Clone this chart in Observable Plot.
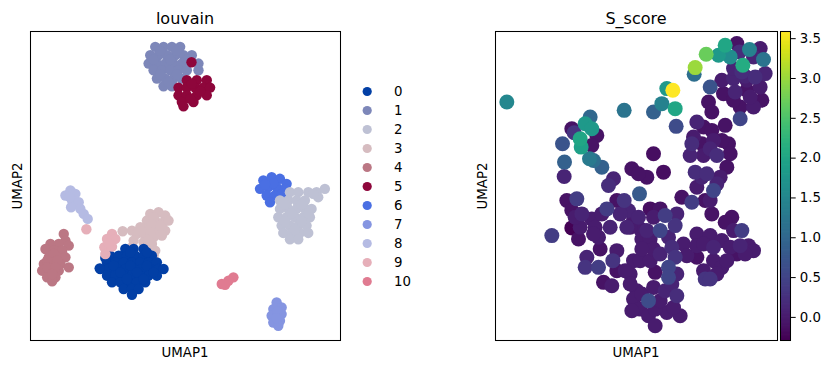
<!DOCTYPE html>
<html>
<head>
<meta charset="utf-8">
<script src="https://cdn.jsdelivr.net/npm/d3@7"></script>
<script src="https://cdn.jsdelivr.net/npm/@observablehq/plot@0.6"></script>
<style>
  html, body { margin: 0; padding: 0; background: #fff; }
  #chart { position: relative; width: 831px; height: 369px; font-family: "DejaVu Sans", sans-serif; }
  #chart > svg { position: absolute; top: 0; overflow: visible; }
</style>
</head>
<body>
<div id="chart"></div>
<script>
// ---------- louvain panel data (UMAP1, UMAP2) ----------
const categories = ["0","1","2","3","4","5","6","7","8","9","10"];
const palette = ["#023fa5","#7d87b9","#bec1d4","#d6bcc0","#bb7784","#8e063b","#4a6fe3","#8595e1","#b5bbe3","#e6afb9","#e07b91"];

const cluster0 = [[3.75,3.55],[4.00,3.55],[4.30,3.55],
  [3.30,3.35],[3.55,3.35],[3.80,3.35],[4.05,3.35],[4.30,3.35],[4.55,3.35],
  [3.20,3.15],[3.45,3.15],[3.70,3.15],[3.95,3.15],[4.20,3.15],[4.45,3.15],[4.70,3.15],
  [3.00,2.95],[3.25,2.95],[3.50,2.95],[3.75,2.95],[4.00,2.95],[4.25,2.95],[4.50,2.95],[4.75,2.95],[4.90,2.95],
  [3.20,2.75],[3.45,2.75],[3.70,2.75],[3.95,2.75],[4.20,2.75],[4.45,2.75],[4.70,2.75],
  [3.35,2.55],[3.60,2.55],[3.85,2.55],[4.10,2.55],[4.35,2.55],
  [3.70,2.35],[3.95,2.35],[4.15,2.35],[3.95,2.18],[3.15,3.28],[2.98,2.97],
  [3.40,3.05],[3.90,3.05],[4.40,3.05],[3.60,2.85],[4.10,2.85],[4.60,2.85],[3.80,2.65],[4.30,2.65],[3.90,3.45],[4.40,3.45]];
const cluster1 = [[4.65,9.60],[4.90,9.60],[5.15,9.60],[5.40,9.60],
  [4.50,9.35],[4.75,9.35],[5.00,9.35],[5.25,9.35],[5.50,9.35],[5.75,9.35],
  [4.45,9.10],[4.70,9.10],[4.95,9.10],[5.20,9.10],[5.45,9.10],[5.95,9.10],
  [4.60,8.90],[4.85,8.90],[5.10,8.90],[5.35,8.90],[5.60,8.90],[5.95,8.90],
  [4.70,8.65],[4.95,8.65],[5.20,8.65],[5.45,8.65],[4.90,8.42],[5.15,8.42],
  [4.80,9.48],[5.30,9.48],[4.60,9.22],[5.10,9.22],[5.60,9.22],[4.80,8.78],[5.30,8.78],[5.05,8.54]];
const cluster2 = [[8.70,5.25],[8.95,5.25],[9.25,5.25],[9.50,5.25],[9.75,5.35],[9.55,5.10],[9.40,5.20],
  [8.40,5.00],[8.65,5.00],[8.90,5.00],[9.15,5.00],
  [8.40,4.75],[8.65,4.75],[8.90,4.75],[9.15,4.75],[9.35,4.75],
  [8.35,4.50],[8.60,4.50],[8.85,4.50],[9.10,4.50],[9.30,4.50],
  [8.45,4.25],[8.70,4.25],[8.95,4.25],[9.20,4.25],
  [8.50,4.03],[8.75,4.03],[9.00,4.03],[9.25,4.03],[8.70,3.84],[8.95,3.84],
  [8.55,4.88],[9.05,4.88],[8.75,4.62],[9.25,4.62],[8.55,4.38],[9.05,4.38],[8.85,4.14]];
const cluster3 = [[4.50,4.60],[4.75,4.65],[4.95,4.55],[4.40,4.40],[4.65,4.40],[4.90,4.35],[5.05,4.40],
  [4.20,4.20],[4.45,4.15],[4.70,4.15],[4.95,4.10],[3.95,4.10],[3.67,4.08],[4.10,4.00],[4.35,3.95],
  [4.60,3.90],[4.85,3.95],[4.00,3.80],[4.30,3.75],[4.55,3.70],[3.95,3.60],[4.45,3.55],[4.65,3.50],[4.60,3.35],
  [4.60,4.50],[4.55,4.28],[4.80,4.25],[4.25,4.08],[4.50,4.05],[4.45,3.82]];
const cluster4 = [[1.90,4.00],[1.95,3.80],[2.05,3.65],[1.50,3.70],[1.75,3.70],[1.35,3.55],[1.60,3.50],
  [1.85,3.50],[1.45,3.30],[1.70,3.30],[1.95,3.30],[1.30,3.10],[1.55,3.10],[1.80,3.10],[2.05,3.00],
  [1.25,2.90],[1.50,2.90],[1.75,2.90],[1.40,2.70],[1.65,2.70],[1.55,2.58],
  [1.60,3.40],[1.40,3.20],[1.70,3.20],[1.40,3.00],[1.65,3.00],[1.55,2.80]];
const cluster5 = [[5.74,9.14],[5.60,8.60],[5.90,8.60],[6.20,8.60],
  [5.35,8.38],[5.60,8.38],[5.85,8.38],[6.10,8.38],[6.30,8.38],
  [5.35,8.15],[5.60,8.15],[5.90,8.15],[6.20,8.15],[5.45,7.95],[5.80,7.95],[5.50,7.82],
  [5.75,8.50],[6.00,8.27],[5.70,8.05]];
const cluster6 = [[7.90,5.60],[8.15,5.70],[8.40,5.65],[8.60,5.50],[7.80,5.35],[8.05,5.40],
  [8.30,5.40],[8.55,5.35],[8.00,5.15],[8.25,5.15],[8.10,4.95],[8.45,5.20],[8.20,5.52],[7.95,5.48]];
const cluster7 = [[8.30,1.95],[8.45,1.80],[8.20,1.75],[8.45,1.60],[8.15,1.55],[8.40,1.40],[8.20,1.35],[8.35,1.25],[8.32,1.68],[8.30,1.48]];
const cluster8 = [[2.10,5.30],[1.95,5.15],[2.25,5.20],[2.15,5.00],[2.35,4.95],[2.12,4.80],[2.40,4.75],[2.50,4.60],[2.62,4.45],[2.08,5.10]];
const cluster9 = [[2.58,4.14],[3.35,4.00],[3.20,3.85],[3.45,3.85],[3.12,3.60],[3.35,3.62],[3.15,3.40],[3.25,3.72]];
const cluster10 = [[7.00,2.70],[6.85,2.60],[6.75,2.48],[6.65,2.50]];

const clusterPoints = {"0":cluster0,"1":cluster1,"2":cluster2,"3":cluster3,"4":cluster4,"5":cluster5,
  "6":cluster6,"7":cluster7,"8":cluster8,"9":cluster9,"10":cluster10};
const drawOrder = ["6","2","3","0","1","5","4","7","8","9","10"];

// ---------- S_score panel data [UMAP1, UMAP2, S_score] ----------
const sTopRight = [[9.15,9.65,2.0],[9.50,9.70,-0.1],[9.88,9.52,1.4],[10.20,9.55,0.0],[10.30,9.22,1.2],
  [8.58,9.38,2.7],[8.95,9.35,1.8],[9.30,9.30,1.6],[9.68,9.05,2.1],[9.58,9.45,0.2],[10.00,9.30,0.1],
  [8.25,8.98,3.0],[8.22,8.78,1.1],[10.35,8.80,0.1],[10.05,8.70,0.2],[9.40,8.65,0.1],[9.65,8.85,0.2],
  [9.75,8.72,0.1],[8.70,8.40,0.7],[9.10,8.20,-0.1],[9.45,8.25,0.1],[9.80,8.30,-0.1],[10.25,8.00,-0.1],
  [9.60,7.80,-0.1],[10.00,7.80,0.0],[9.60,7.45,0.5],[8.65,7.95,-0.1],[8.75,7.65,-0.1],
  [9.40,8.95,0.1],[9.80,8.60,0.0],[10.20,8.40,0.0],[9.05,8.60,0.0],[9.40,8.00,-0.1],[9.90,8.10,0.0]];
const sTopMiddle = [[7.40,8.35,1.8],[7.58,8.30,3.59],[7.25,7.90,1.4],[7.65,7.75,2.0],[7.00,7.65,0.9],
  [6.12,7.70,1.2],[7.68,7.22,0.6],[2.60,7.95,1.5]];
const sLeftArm = [[5.10,7.50,1.0],[4.95,7.30,1.8],[5.15,7.15,1.8],[4.55,7.15,-0.1],[4.62,7.03,0.3],
  [5.30,6.95,-0.1],[4.80,6.85,2.0],[4.83,6.60,1.9],[4.27,6.70,0.7],[5.15,6.65,-0.1],[4.33,6.15,0.9],
  [5.08,6.25,1.3],[5.20,6.20,1.1],[5.45,6.00,0.9],[4.32,5.72,0.1]];
const sMiddle = [[8.30,7.35,0.1],[8.50,7.20,-0.1],[8.15,6.70,0.2],[8.10,6.35,0.1],[8.75,7.10,-0.1],
  [8.45,6.70,-0.1],[8.70,6.55,0.1],[8.90,6.35,0.2],[9.15,7.25,-0.1],[9.25,6.70,-0.1],[9.30,6.40,-0.1],
  [9.20,6.00,-0.1],[8.25,5.85,0.2],[8.60,5.80,0.2],[8.45,5.70,0.1],[8.90,5.50,0.1],[8.80,5.30,0.5],
  [8.55,5.00,-0.1],[8.75,4.60,-0.1],[8.15,4.95,0.4],[7.85,5.10,-0.1],[7.00,6.40,-0.15],[7.30,5.85,-0.15],
  [6.80,5.70,-0.1],[6.35,5.95,-0.1],[6.55,5.80,-0.1],[6.58,5.20,0.8],[5.80,5.65,0.1],[5.65,5.45,0.2],
  [8.20,6.90,0.0],[8.80,6.80,0.0],[8.50,6.35,0.0],[9.05,6.80,-0.1],[8.30,5.40,0.0],[8.70,5.00,0.0],[9.00,5.70,0.0]];
const sBottom = [[4.40,5.00,-0.1],[4.70,5.05,0.4],[4.55,4.70,-0.1],[4.85,4.60,0.1],[5.15,4.45,0.0],
  [5.60,4.75,0.4],[5.90,5.00,-0.1],[6.12,5.00,0.3],[3.95,3.95,0.4],[4.55,4.18,-0.29],[4.80,4.20,0.0],
  [5.25,4.20,0.0],[5.70,4.20,0.1],[4.75,3.85,-0.1],[5.35,3.90,0.0],[5.00,3.30,0.1],[5.40,3.55,-0.1],
  [4.95,3.00,0.3],[5.35,3.00,0.4],[5.78,3.20,0.3],[5.90,3.50,0.0],[5.90,2.90,-0.1],[5.50,2.55,-0.1],
  [5.75,2.45,0.0],[6.30,2.80,0.0],[6.40,3.20,0.0],[6.40,4.40,0.0],[6.60,4.15,0.0],[6.25,4.70,0.1],
  [6.55,4.50,0.1],[6.20,4.20,0.1],[6.90,4.75,-0.15],[7.20,4.75,-0.1],[7.35,4.55,0.4],[7.70,4.60,0.1],
  [7.65,4.25,0.3],[7.20,4.10,0.5],[6.65,3.85,0.0],[6.90,3.85,0.0],[6.60,3.20,0.0],[6.90,3.20,0.0],
  [7.05,2.85,-0.1],[7.45,3.00,0.5],[7.65,3.30,0.3],[7.55,3.60,0.2],[7.90,3.70,0.0],[8.00,3.35,0.0],
  [8.30,4.00,0.0],[8.30,3.65,0.0],[8.30,3.30,-0.1],[8.70,3.95,0.0],[9.05,3.80,0.0],[9.40,4.10,0.0],
  [9.65,4.10,0.4],[9.35,4.50,-0.1],[9.15,4.35,-0.1],[9.85,3.65,0.0],[10.00,3.50,0.0],[9.50,3.40,-0.1],
  [8.80,3.20,0.0],[9.05,3.00,0.0],[8.55,2.65,0.3],[8.70,2.65,0.3],[8.90,2.80,0.0],[6.50,2.30,0.0],
  [6.40,2.05,0.0],[6.60,1.75,0.0],[6.35,1.70,0.0],[6.85,2.00,0.6],[6.85,1.55,0.0],[7.05,1.25,0.0],
  [7.35,2.30,0.1],[7.55,2.50,0.1],[7.70,2.15,0.2],[7.40,1.65,0.0],[7.80,1.55,0.0],[7.45,2.70,0.5],
  [7.05,1.75,0.0],
  [6.00,4.60,0.1],[5.45,4.60,0.0],[6.30,4.20,0.0],[7.00,4.50,0.0],[6.80,4.10,0.1],[7.45,3.90,0.1],
  [7.00,3.55,0.0],[7.20,3.40,0.1],[6.65,3.55,0.0],[6.15,2.90,0.0],[6.30,2.50,0.0],[6.65,2.20,0.0],
  [7.20,2.00,0.0],[7.60,1.80,0.0],[7.00,2.40,0.0],[7.70,2.80,0.1],[8.50,3.70,0.0],[8.80,3.60,0.1],
  [9.30,3.60,0.0],[9.60,3.65,0.1],[9.20,3.20,0.0],[9.75,3.40,0.0],[8.50,2.90,0.0],[5.20,4.00,0.0],
  [4.65,4.50,0.0]];

const colorbarTicks = [0.0, 0.5, 1.0, 1.5, 2.0, 2.5, 3.0, 3.5];

// ---------- build ----------
const chart = document.getElementById("chart");
const font = {fontFamily: "DejaVu Sans, sans-serif", fontSize: "13.33px", color: "black", background: "transparent"};

function place(svg, left) {
  svg.style.left = left + "px";
  chart.appendChild(svg);
}

// Left panel
const cells = drawOrder.flatMap(c => clusterPoints[c].map(([u1, u2]) => ({u1, u2, cluster: c})));
const left = Plot.plot({
  width: 420, height: 369,
  marginLeft: 30, marginRight: 80, marginTop: 31, marginBottom: 29,
  style: font,
  x: {domain: [0.90, 10.22], axis: null},
  y: {domain: [0.81, 10.06], axis: null},
  color: {domain: categories, range: palette},
  marks: [
    Plot.dot(cells, {x: "u1", y: "u2", fill: "cluster", r: 5.2}),
    Plot.frame({stroke: "black", strokeWidth: 1.05})
  ]
});
place(left, 0);

// Legend
const legend = Plot.plot({
  width: 80, height: 369, margin: 0,
  style: font,
  x: {domain: [0, 1], range: [26.7, 53.5], axis: null},
  y: {type: "point", domain: categories, range: [81, 291], axis: null},
  color: {domain: categories, range: palette},
  marks: [
    Plot.dot(categories, {x: () => 0, y: d => d, fill: d => d, r: 4.6}),
    Plot.text(categories, {x: () => 1, y: d => d, text: d => d, textAnchor: "start", fill: "black", fontSize: 13.33})
  ]
});
place(legend, 340);

// Right panel
const sCells = [...sTopRight, ...sTopMiddle, ...sLeftArm, ...sMiddle, ...sBottom]
  .map(([u1, u2, s]) => ({u1, u2, s}))
  .sort((a, b) => a.s - b.s);
const sExtent = d3.extent(sCells, d => d.s);
const right = Plot.plot({
  width: 411, height: 369,
  marginLeft: 75, marginRight: 54, marginTop: 31, marginBottom: 29,
  style: font,
  x: {domain: [2.26, 10.72], axis: null},
  y: {domain: [0.81, 10.06], axis: null},
  color: {type: "linear", scheme: "viridis", domain: sExtent},
  marks: [
    Plot.dot(sCells, {x: "u1", y: "u2", fill: "s", r: 7.5}),
    Plot.frame({stroke: "black", strokeWidth: 1.05})
  ]
});
place(right, 420);

// Colorbar
const nStops = 240;
const step = (sExtent[1] - sExtent[0]) / nStops;
const stops = d3.range(nStops).map(i => sExtent[0] + i * step);
const cbar = Plot.plot({
  width: 54, height: 369,
  marginLeft: 3, marginRight: 41, marginTop: 31, marginBottom: 29,
  style: font,
  x: {domain: [0, 1], axis: null},
  y: {domain: sExtent, axis: "right", ticks: colorbarTicks, tickFormat: d3.format(".1f"),
      tickSize: 4.7, tickPadding: 4.5, label: null, fontSize: 13.33},
  color: {type: "linear", scheme: "viridis", domain: sExtent},
  marks: [
    Plot.rect(stops, {x1: 0, x2: 1, y1: d => d, y2: d => Math.min(d + step * 1.6, sExtent[1]), fill: d => d + step / 2}),
    Plot.frame({stroke: "black", strokeWidth: 1.05})
  ]
});
place(cbar, 777);

// Titles and axis labels
const overlay = d3.create("svg")
  .attr("width", 831).attr("height", 369)
  .style("left", "0px").style("pointer-events", "none")
  .attr("font-family", "DejaVu Sans, sans-serif").attr("fill", "black");
const labels = [
  {text: "louvain", x: 185, y: 24, size: 16, rot: false},
  {text: "S_score", x: 636, y: 24, size: 16, rot: false},
  {text: "UMAP1", x: 185, y: 356.5, size: 13.33, rot: false},
  {text: "UMAP1", x: 636, y: 356.5, size: 13.33, rot: false},
  {text: "UMAP2", x: 21.7, y: 186, size: 13.33, rot: true},
  {text: "UMAP2", x: 486.7, y: 186, size: 13.33, rot: true}
];
overlay.selectAll("text").data(labels).join("text")
  .attr("text-anchor", "middle")
  .attr("font-size", d => d.size)
  .attr("transform", d => `translate(${d.x},${d.y})` + (d.rot ? " rotate(-90)" : ""))
  .text(d => d.text);
place(overlay.node(), 0);
</script>
</body>
</html>
